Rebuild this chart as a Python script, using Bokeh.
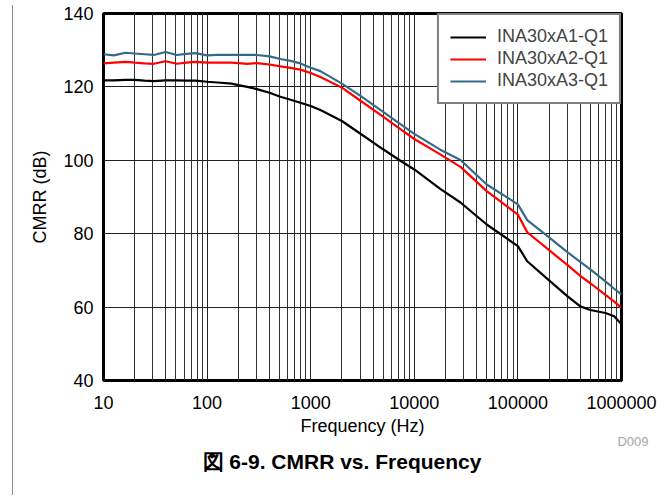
from bokeh.plotting import figure
from bokeh.models import FixedTicker, Title, Div
from bokeh.layouts import row
from bokeh.embed import file_html
from bokeh.resources import INLINE

# ---- data ----
freq = [10, 12.6, 16.3, 20, 25, 30.6, 39.7, 51, 63, 77, 100, 126, 172, 200, 244, 302,
        400, 510, 640, 795, 1000, 1240, 2000, 3000, 5000, 7400, 10000, 17800, 27900,
        50000, 100000, 123000, 200000, 300000, 400000, 500000, 700000, 850000, 1000000]
cmrr_a1 = [121.8, 121.8, 121.9, 121.9, 121.7, 121.6, 121.8, 121.8, 121.7, 121.7, 121.4,
           121.2, 120.9, 120.5, 120.0, 119.4, 118.4, 117.3, 116.5, 115.7, 114.8, 113.7,
           110.7, 107.3, 103.0, 99.8, 97.5, 92.2, 88.5, 82.5, 76.6, 72.5, 67.3, 63.0,
           60.2, 59.2, 58.4, 57.5, 55.3]
cmrr_a2 = [126.4, 126.6, 126.8, 126.6, 126.4, 126.3, 127.0, 126.3, 126.6, 126.8, 126.6,
           126.6, 126.6, 126.5, 126.3, 126.5, 126.1, 125.6, 125.2, 124.7, 123.8, 122.7,
           119.8, 116.3, 111.9, 108.4, 105.8, 101.6, 98.2, 91.6, 85.2, 80.4, 75.5, 71.5,
           68.5, 66.5, 63.3, 61.5, 59.8]
cmrr_a3 = [128.9, 128.6, 129.3, 129.1, 128.9, 128.7, 129.5, 128.7, 129.0, 129.2, 128.6,
           128.7, 128.7, 128.7, 128.7, 128.7, 128.3, 127.6, 127.1, 126.4, 125.2, 124.3,
           120.9, 117.6, 113.2, 109.8, 107.2, 102.9, 100.1, 93.4, 88.0, 83.7, 79.0, 75.0,
           72.3, 70.3, 67.0, 65.0, 63.4]
series_names = ["INA30xA1-Q1", "INA30xA2-Q1", "INA30xA3-Q1"]
series_colors = ["#000000", "#ff0000", "#356a87"]

x_ticks = [10, 100, 1000, 10000, 100000, 1000000]
x_tick_labels = ["10", "100", "1000", "10000", "100000", "1000000"]
x_minor = [m * d for d in [10, 100, 1000, 10000, 100000] for m in range(2, 10)]
y_ticks = [40, 60, 80, 100, 120, 140]

FONT = "Liberation Sans"

p = figure(width=639, height=490, x_axis_type="log",
           x_range=(10, 1000000), y_range=(40, 140),
           output_backend="svg", toolbar_location=None,
           min_border_left=85, min_border_right=36, min_border_top=13,
           min_border_bottom=110)

for ys, name, col in zip([cmrr_a1, cmrr_a2, cmrr_a3], series_names, series_colors):
    p.line(freq, ys, line_color=col, line_width=2.2, legend_label=name)

# axes
p.xaxis.ticker = FixedTicker(ticks=x_ticks, minor_ticks=x_minor)
p.xaxis.major_label_overrides = {t: l for t, l in zip(x_ticks, x_tick_labels)}
p.yaxis.ticker = FixedTicker(ticks=y_ticks)
for ax in (p.xaxis, p.yaxis):
    ax.axis_line_color = None
    ax.major_tick_out = 0
    ax.major_tick_in = 0
    ax.minor_tick_out = 0
    ax.minor_tick_in = 0
    ax.major_label_text_font = FONT
    ax.major_label_text_font_size = "18px"
    ax.major_label_text_color = "#000000"
    ax.axis_label_text_font = FONT
    ax.axis_label_text_font_size = "18px"
    ax.axis_label_text_font_style = "normal"
    ax.axis_label_text_color = "#000000"
p.xaxis.axis_label = "Frequency (Hz)"
p.yaxis.axis_label = "CMRR (dB)"
p.xaxis.major_label_standoff = 15
p.xaxis.axis_label_standoff = 4
p.yaxis.major_label_standoff = 10
p.yaxis.axis_label_standoff = 10

# grid
p.xgrid.grid_line_color = "#222222"
p.xgrid.grid_line_width = 1
p.xgrid.minor_grid_line_color = "#333333"
p.xgrid.minor_grid_line_width = 1
p.ygrid.grid_line_color = "#222222"
p.ygrid.grid_line_width = 1

p.outline_line_color = "#000000"
p.outline_line_width = 3
p.outline_line_alpha = 1
p.background_fill_color = "white"
p.border_fill_color = "white"

# legend
lg = p.legend[0]
lg.location = "top_right"
lg.margin = 0
lg.padding = 11
lg.spacing = 1
lg.glyph_width = 36
lg.glyph_height = 20
lg.label_height = 20
lg.label_standoff = 11
lg.label_text_font = FONT
lg.label_text_font_size = "18px"
lg.border_line_color = "#000000"
lg.border_line_width = 2.5
lg.background_fill_alpha = 1

p.add_layout(Title(text="D009", align="right", text_font=FONT, text_font_size="13px",
                   text_color="#a6a6a6", text_font_style="normal", offset=-27,
                   standoff=-21), "below")
p.add_layout(Title(text="図 6-9. CMRR vs. Frequency", align="left", offset=99,
                   text_font=FONT, text_font_size="21px", text_font_style="bold",
                   text_color="#000000", standoff=18), "below")

edge = Div(text="", width=8, height=490,
           styles={"border-right": "1px solid #8c8c8c", "box-sizing": "border-box"})

layout = row(edge, p, spacing=0)

open("out.html", "w").write(file_html(layout, INLINE))
